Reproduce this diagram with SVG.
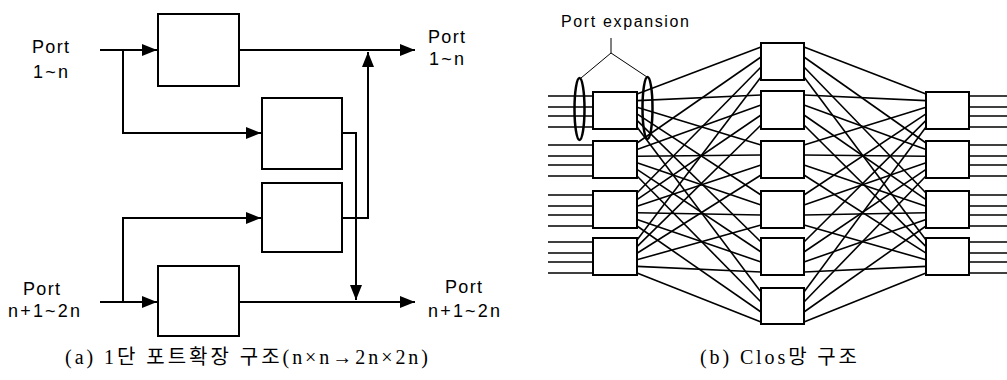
<svg xmlns="http://www.w3.org/2000/svg" width="1007" height="380" viewBox="0 0 1007 380">
<style>
.bx{fill:#fff;stroke:#000;stroke-width:2}
.ln{fill:none;stroke:#000;stroke-width:2}
.cl{stroke:#000;stroke-width:1.6}
.th{fill:none;stroke:#000;stroke-width:1}
.lb{font-family:"Liberation Sans",Arial,sans-serif;font-size:18px;fill:#000}
.cap{font-family:"Liberation Serif","Noto Sans CJK KR",serif;font-size:20px;fill:#000}
</style>
<defs>
<marker id="ah" markerUnits="userSpaceOnUse" markerWidth="16" markerHeight="12" refX="15" refY="6" orient="auto">
<path d="M0,0L15,6L0,12z" fill="#000"/>
</marker>
</defs>
<rect width="1007" height="380" fill="#fff"/>

<!-- (a) -->
<g id="a-connectors">
<path class="ln" d="M100,50H157" marker-end="url(#ah)"/>
<path class="ln" d="M123,50V133H261" marker-end="url(#ah)"/>
<path class="ln" d="M239,50H415" marker-end="url(#ah)"/>
<path class="ln" d="M342,218H368V52" marker-end="url(#ah)"/>
<path class="ln" d="M342,133H356V300" marker-end="url(#ah)"/>
<path class="ln" d="M100,302H157" marker-end="url(#ah)"/>
<path class="ln" d="M123,302V218H261" marker-end="url(#ah)"/>
<path class="ln" d="M239,302H415" marker-end="url(#ah)"/>
</g>
<g id="a-box1"><rect class="bx" x="158" y="14" width="81" height="72"/></g>
<g id="a-box2"><rect class="bx" x="262" y="98" width="80" height="71"/></g>
<g id="a-box3"><rect class="bx" x="262" y="183" width="80" height="69"/></g>
<g id="a-box4"><rect class="bx" x="158" y="266" width="81" height="70"/></g>
<g id="a-labels">
<text class="lb" x="32" y="53" textLength="37">Port</text>
<text class="lb" x="33" y="78" textLength="35">1~n</text>
<text class="lb" x="428" y="43" textLength="37">Port</text>
<text class="lb" x="429" y="65" textLength="35">1~n</text>
<text class="lb" x="23" y="295" textLength="37">Port</text>
<text class="lb" x="8" y="317" textLength="72">n+1~2n</text>
<text class="lb" x="445" y="293" textLength="37">Port</text>
<text class="lb" x="428" y="317" textLength="72">n+1~2n</text>
</g>
<text class="cap" x="65" y="364" textLength="363">(a) 1단 포트확장 구조(n×n→2n×2n)</text>

<!-- (b) -->
<g id="b-connectors">
<path class="cl" d="M548,96H593M548,107H593M548,116H593M548,127H593M548,145H593M548,156H593M548,165H593M548,176H593M548,195H593M548,206H593M548,215H593M548,226H593M548,242H593M548,253H593M548,262H593M548,273H593"/>
<path class="cl" d="M969,96H1007M969,107H1007M969,116H1007M969,127H1007M969,145H1007M969,156H1007M969,165H1007M969,176H1007M969,195H1007M969,206H1007M969,215H1007M969,226H1007M969,242H1007M969,253H1007M969,262H1007M969,273H1007"/>
<line class="cl" x1="637" y1="94" x2="761" y2="47"/>
<line class="cl" x1="637" y1="100.6" x2="761" y2="95"/>
<line class="cl" x1="637" y1="107.2" x2="761" y2="145"/>
<line class="cl" x1="637" y1="113.8" x2="761" y2="195"/>
<line class="cl" x1="637" y1="120.4" x2="761" y2="242"/>
<line class="cl" x1="637" y1="127" x2="761" y2="292"/>
<line class="cl" x1="637" y1="143" x2="761" y2="57"/>
<line class="cl" x1="637" y1="149.6" x2="761" y2="105"/>
<line class="cl" x1="637" y1="156.2" x2="761" y2="155"/>
<line class="cl" x1="637" y1="162.8" x2="761" y2="205"/>
<line class="cl" x1="637" y1="169.4" x2="761" y2="252"/>
<line class="cl" x1="637" y1="176" x2="761" y2="302"/>
<line class="cl" x1="637" y1="193" x2="761" y2="67"/>
<line class="cl" x1="637" y1="199.6" x2="761" y2="115"/>
<line class="cl" x1="637" y1="206.2" x2="761" y2="165"/>
<line class="cl" x1="637" y1="212.8" x2="761" y2="215"/>
<line class="cl" x1="637" y1="219.4" x2="761" y2="262"/>
<line class="cl" x1="637" y1="226" x2="761" y2="312"/>
<line class="cl" x1="637" y1="240" x2="761" y2="77"/>
<line class="cl" x1="637" y1="246.6" x2="761" y2="125"/>
<line class="cl" x1="637" y1="253.2" x2="761" y2="175"/>
<line class="cl" x1="637" y1="259.8" x2="761" y2="225"/>
<line class="cl" x1="637" y1="266.4" x2="761" y2="272"/>
<line class="cl" x1="637" y1="273" x2="761" y2="322"/>
<line class="cl" x1="804" y1="47" x2="926" y2="94"/>
<line class="cl" x1="804" y1="57" x2="926" y2="143"/>
<line class="cl" x1="804" y1="67" x2="926" y2="193"/>
<line class="cl" x1="804" y1="77" x2="926" y2="240"/>
<line class="cl" x1="804" y1="95" x2="926" y2="100.6"/>
<line class="cl" x1="804" y1="105" x2="926" y2="149.6"/>
<line class="cl" x1="804" y1="115" x2="926" y2="199.6"/>
<line class="cl" x1="804" y1="125" x2="926" y2="246.6"/>
<line class="cl" x1="804" y1="145" x2="926" y2="107.2"/>
<line class="cl" x1="804" y1="155" x2="926" y2="156.2"/>
<line class="cl" x1="804" y1="165" x2="926" y2="206.2"/>
<line class="cl" x1="804" y1="175" x2="926" y2="253.2"/>
<line class="cl" x1="804" y1="195" x2="926" y2="113.8"/>
<line class="cl" x1="804" y1="205" x2="926" y2="162.8"/>
<line class="cl" x1="804" y1="215" x2="926" y2="212.8"/>
<line class="cl" x1="804" y1="225" x2="926" y2="259.8"/>
<line class="cl" x1="804" y1="242" x2="926" y2="120.4"/>
<line class="cl" x1="804" y1="252" x2="926" y2="169.4"/>
<line class="cl" x1="804" y1="262" x2="926" y2="219.4"/>
<line class="cl" x1="804" y1="272" x2="926" y2="266.4"/>
<line class="cl" x1="804" y1="292" x2="926" y2="127"/>
<line class="cl" x1="804" y1="302" x2="926" y2="176"/>
<line class="cl" x1="804" y1="312" x2="926" y2="226"/>
<line class="cl" x1="804" y1="322" x2="926" y2="273"/>
</g>
<g id="b-L1"><rect class="bx" x="593" y="92" width="44" height="37"/></g>
<g id="b-L2"><rect class="bx" x="593" y="141" width="44" height="37"/></g>
<g id="b-L3"><rect class="bx" x="593" y="191" width="44" height="37"/></g>
<g id="b-L4"><rect class="bx" x="593" y="238" width="44" height="37"/></g>
<g id="b-M1"><rect class="bx" x="761" y="43" width="43" height="37"/></g>
<g id="b-M2"><rect class="bx" x="761" y="91" width="43" height="38"/></g>
<g id="b-M3"><rect class="bx" x="761" y="141" width="43" height="37"/></g>
<g id="b-M4"><rect class="bx" x="761" y="191" width="43" height="37"/></g>
<g id="b-M5"><rect class="bx" x="761" y="238" width="43" height="37"/></g>
<g id="b-M6"><rect class="bx" x="761" y="288" width="43" height="36"/></g>
<g id="b-R1"><rect class="bx" x="926" y="92" width="43" height="37"/></g>
<g id="b-R2"><rect class="bx" x="926" y="141" width="43" height="37"/></g>
<g id="b-R3"><rect class="bx" x="926" y="191" width="43" height="37"/></g>
<g id="b-R4"><rect class="bx" x="926" y="238" width="43" height="37"/></g>
<g id="b-expansion">
<ellipse cx="579.5" cy="109" rx="5" ry="31" fill="none" stroke="#000" stroke-width="2.5"/>
<ellipse cx="647.5" cy="108" rx="5" ry="31" fill="none" stroke="#000" stroke-width="2.5"/>
<path class="th" d="M611,38V53L581,78M611,53L647,77"/>
<text class="lb" x="561" y="27" textLength="128" style="font-size:16px">Port expansion</text>
</g>
<text class="cap" x="700" y="364" textLength="157">(b) Clos망 구조</text>
</svg>
